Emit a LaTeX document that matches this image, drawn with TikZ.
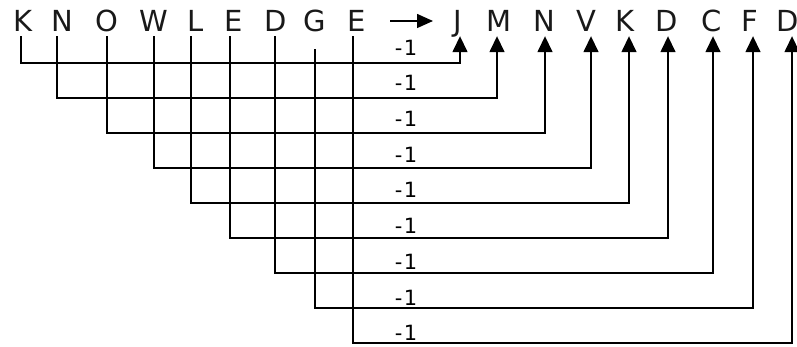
\documentclass[tikz,border=0pt]{standalone}
\usepackage{fontspec}
\setmainfont{DejaVu Sans}
\usetikzlibrary{arrows.meta}
\tikzset{
  letter/.style={font=\fontsize{29}{29}\selectfont, anchor=base, text depth=0pt, inner sep=4pt, text=black!90},
  minus/.style={font=\fontsize{21}{21}\selectfont, inner sep=0pt},
  wire/.style={line width=1.5pt},
  tip/.style={wire, -{Triangle[length=16pt,width=15pt]}}
}
\begin{document}
\begin{tikzpicture}[x=1pt,y=-1pt]
  \useasboundingbox (0,0) rectangle (797,347);
  % word and its code
  \foreach \l/\x [count=\i] in {K/23,N/62,O/107,W/154,L/196,E/234,D/276,G/315,E/357}
    \node[letter] (s\i) at (\x,32) {\l};
  \foreach \l/\x [count=\i] in {J/458,M/499,N/544,V/586,K/625,D/667,C/712,F/750,D/788}
    \node[letter] (t\i) at (\x,32) {\l};
  \coordinate (a0) at (390,21);
  \coordinate (a1) at (433,21);
  \draw[tip, -{Triangle[length=16pt,width=14pt]}] (a0) -- (a1);
  % shifts
  \foreach \i/\ds/\dt/\gap in {1/-2/2/0,2/-5/-2/0,3/0/1/0,4/0/5/0,5/-5/4/0,6/-4/1/0,7/-1/1/0,8/0/3/13,9/-4/4/0} {
    \coordinate (r\i) at (0,{63+35*(\i-1)});
    \coordinate (b\i) at ([xshift=\ds pt]s\i.south);
    \coordinate (e\i) at ([xshift=\dt pt]t\i.south);
    \node[minus] (m\i) at (406,{47.5+35.7*(\i-1)}) {-\kern1.5pt1};
    \draw[tip, shorten <=\gap pt] (b\i) |- (r\i -| e\i) -- (e\i);
  }
\end{tikzpicture}
\end{document}
